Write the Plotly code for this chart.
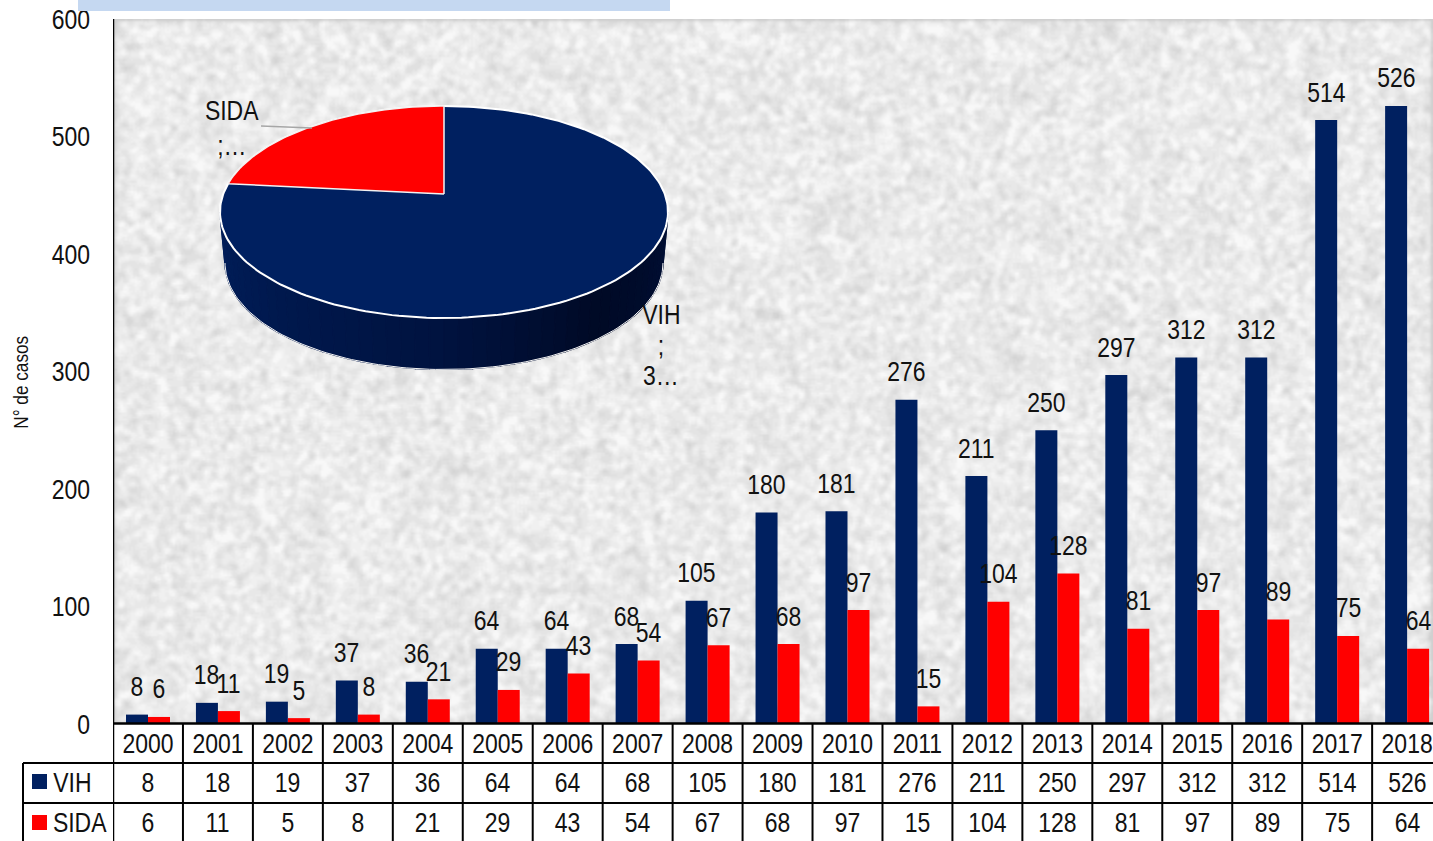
import base64, struct, zlib
import numpy as np
import plotly.graph_objects as go

YEARS = ["2000","2001","2002","2003","2004","2005","2006","2007","2008","2009",
         "2010","2011","2012","2013","2014","2015","2016","2017","2018"]
VIH = [8,18,19,37,36,64,64,68,105,180,181,276,211,250,297,312,312,514,526]
SIDA = [6,11,5,8,21,29,43,54,67,68,97,15,104,128,81,97,89,75,64]
Y_TICKS = [0,100,200,300,400,500,600]
NAVY = "#002060"
RED = "#FF0000"
FONT = "Liberation Sans"
W, H = 1433, 841
L, T, B = 113, 19, 724
TXT = "#111111"
FS = 28

def px(x): return (x - L) / (W - L)
def py(y): return (B - y) / (B - T)

# granite-like backdrop, deterministic shader hash, no chart information in it
def texture(w=660, h=353):
    yy, xx = np.mgrid[0:h, 0:w].astype(float)
    n = np.sin(xx * 12.9898 + yy * 78.233) * 43758.5453
    n = n - np.floor(n)
    def smooth(a, r):
        out = a.copy()
        for _ in range(2):
            k = np.ones(2 * r + 1) / (2 * r + 1)
            out = np.apply_along_axis(lambda m: np.convolve(m, k, mode="same"), 0, out)
            out = np.apply_along_axis(lambda m: np.convolve(m, k, mode="same"), 1, out)
        return out
    fine = smooth(n, 1)
    coarse = smooth(n, 3)
    v = (fine - fine.mean()) / fine.std() * 0.9 + (coarse - coarse.mean()) / coarse.std() * 0.15
    g = np.clip(236 + v * 7, 208, 250).astype(np.uint8)
    g = (g // 4) * 4
    raw = b"".join(b"\x00" + g[i].tobytes() for i in range(h))
    def chunk(t, d):
        return struct.pack(">I", len(d)) + t + d + struct.pack(">I", zlib.crc32(t + d))
    png = (b"\x89PNG\r\n\x1a\n" + chunk(b"IHDR", struct.pack(">IIBBBBB", w, h, 8, 0, 0, 0, 0))
           + chunk(b"IDAT", zlib.compress(raw, 9)) + chunk(b"IEND", b""))
    return "data:image/png;base64," + base64.b64encode(png).decode()

fig = go.Figure()
fig.add_bar(x=YEARS, y=VIH, name="VIH", marker=dict(color=NAVY, line=dict(width=0)))
fig.add_bar(x=YEARS, y=SIDA, name="SIDA", marker=dict(color=RED, line=dict(width=0)))

# 3-D pie, slices from the totals
tot_v, tot_s = sum(VIH), sum(SIDA)
CX, APEX_Y, TOP_Y, BOT_Y, RX = 444.0, 194.0, 106.0, 318.0, 224.0
up, dn = APEX_Y - TOP_Y, BOT_Y - APEX_Y
k = (dn - up) / (dn + up)
A = up * (1 + k)
C = RX * np.sqrt(1 - k * k)

def rim(theta):
    u, v = np.sin(theta), np.cos(theta)
    w = 1 + k * v
    return CX + C * u / w, APEX_Y - A * v / w

def closed(x, y):
    return list(x) + [x[0]], list(y) + [y[0]]

# side wall
ECY, ERY = (TOP_Y + BOT_Y) / 2, (BOT_Y - TOP_Y) / 2
WALL_H, WALL_RX, WALL_RY = 51.0, 219.0, 106.5
wall_stops = [(0.0, (0, 30, 90)), (0.5, (0, 19, 64)), (0.75, (0, 10, 38)), (1.0, (0, 15, 52))]
N = 48
for i in range(N):
    p0, p1 = np.pi * (1 - i / N), np.pi * (1 - (i + 1) / N)
    ph = np.linspace(p0, p1, 4)
    xt = CX + RX * np.cos(ph); yt = ECY + ERY * np.sin(ph)
    xb = CX + WALL_RX * np.cos(ph[::-1]); yb = ECY + WALL_H + WALL_RY * np.sin(ph[::-1])
    f = i / (N - 1)
    col = [int(np.interp(f, [s[0] for s in wall_stops], [s[1][c] for s in wall_stops])) for c in range(3)]
    c = f"rgb({col[0]},{col[1]},{col[2]})"
    sx, sy = closed(list(xt) + list(xb), list(yt) + list(yb))
    fig.add_scatter(x=sx, y=sy, xaxis="x2", yaxis="y2", mode="lines", fill="toself",
                    fillcolor=c, line=dict(width=1.2, color=c), hoverinfo="skip", showlegend=False)
ph = np.linspace(0, np.pi, 120)
fig.add_scatter(x=CX + WALL_RX * np.cos(ph), y=ECY + WALL_H + WALL_RY * np.sin(ph), xaxis="x2", yaxis="y2",
                mode="lines", line=dict(color="#f4f4f4", width=1), hoverinfo="skip", showlegend=False)
# top face
th = np.linspace(0, 2 * np.pi, 240)
ex, ey = rim(th)
fig.add_scatter(x=ex, y=ey, xaxis="x2", yaxis="y2", mode="lines", fill="toself", fillcolor=NAVY,
                line=dict(color="white", width=2), name="VIH", hoverinfo="skip", showlegend=False)
# SIDA slice, counter-clockwise from the top
share = tot_s / (tot_s + tot_v)
ts = np.linspace(0, -2 * np.pi * share, 80)
wx, wy = rim(ts)
sx, sy = closed([CX] + list(wx), [APEX_Y] + list(wy))
fig.add_scatter(x=sx, y=sy, xaxis="x2", yaxis="y2", mode="lines", fill="toself", fillcolor=RED,
                line=dict(color="#f2f2f2", width=1.5), name="SIDA", hoverinfo="skip", showlegend=False)

ann = []
def note(text, x, y, xref="paper", yref="paper", **kw):
    d = dict(text=text, x=x, y=y, xref=xref, yref=yref, showarrow=False,
             font=dict(family=FONT, size=kw.pop("size", FS), color=TXT),
             xanchor=kw.pop("xanchor", "center"), yanchor="middle")
    d.update(kw)
    ann.append(d)

for i, (v, s) in enumerate(zip(VIH, SIDA)):
    note(str(v), i, v, xref="x", yref="y", xshift=-11, yshift=28)
    note(str(s), i, s, xref="x", yref="y", xshift=11, yshift=28)
    note(str(v), i, py(782.5), xref="x")
    note(str(s), i, py(822.5), xref="x")
note("VIH", px(47), py(782.5), xanchor="left")
note("SIDA", px(45), py(822.5), xanchor="left")
note("SIDA", px(232), py(111))
note(";…", px(232), py(145))
note("VIH", px(661), py(314))
note(";", px(661), py(345))
note("3…", px(661), py(376))
note("N° de casos", px(20), py(383), size=21, textangle=-90)

shapes = []
def seg(x0, y0, x1, y1, xref="paper", color="black", width=2):
    shapes.append(dict(type="line", x0=x0, y0=y0, x1=x1, y1=y1, xref=xref, yref="paper",
                       line=dict(color=color, width=width)))
for i in range(len(YEARS) + 1):
    seg(i - 0.5, py(T) if i == 0 else py(B), i - 0.5, py(H), xref="x", width=2.5 if i == 0 else 2)
seg(0, py(723.5), 1, py(723.5), width=2.5)
seg(px(23), py(763), px(23), py(H))
seg(px(23), py(763), 1, py(763))
seg(px(23), py(803), 1, py(803))
seg(px(261), py(126), px(312), py(128), color="#a6a6a6", width=1.5)
for col, y0 in ((NAVY, 774), (RED, 815)):
    shapes.append(dict(type="rect", x0=px(32), x1=px(47), y0=py(y0), y1=py(y0 + 15), xref="paper", yref="paper",
                       fillcolor=col, line=dict(width=0)))
shapes.append(dict(type="rect", x0=px(78), x1=px(670), y0=py(0), y1=py(11), xref="paper", yref="paper",
                   fillcolor="#C5D8F1", line=dict(width=0)))

fig.update_layout(
    width=W, height=H, autosize=False, margin=dict(l=L, r=0, t=T, b=H - B, pad=0),
    paper_bgcolor="white", plot_bgcolor="#e9e9e9", showlegend=False,
    barmode="group", bargap=0.371, bargroupgap=0,
    font=dict(family=FONT, size=FS, color=TXT),
    xaxis=dict(type="category", categoryorder="array", categoryarray=YEARS, range=[-0.5, 18.37],
               showgrid=False, zeroline=False, showline=False, automargin=False,
               ticks="", ticklabelstandoff=0, tickfont=dict(family=FONT, size=FS, color=TXT), tickangle=0),
    yaxis=dict(range=[0, 600], tickvals=Y_TICKS, showgrid=False, zeroline=False, showline=False, automargin=False,
               ticks="", ticklabelstandoff=22,
               tickfont=dict(family=FONT, size=FS, color=TXT)),
    xaxis2=dict(overlaying="x", range=[L, W], visible=False, fixedrange=True, automargin=False),
    yaxis2=dict(overlaying="y", range=[B, T], visible=False, fixedrange=True, automargin=False),
    annotations=ann, shapes=shapes,
    images=[dict(source=texture(), xref="paper", yref="paper", x=0, y=1, sizex=1, sizey=1,
                 xanchor="left", yanchor="top", sizing="stretch", layer="below")],
)
# The reference lettering is a condensed sans: narrow the real text elements to match.
SQUEEZE = """
document.body.style.margin='0';document.body.style.overflow='hidden';
document.querySelectorAll('.main-svg text').forEach(function(t){
  var n=t.getComputedTextLength();
  if(n>0){t.setAttribute('textLength',n*0.82);t.setAttribute('lengthAdjust','spacingAndGlyphs');}
});
"""
fig.write_html("out.html", config=dict(displayModeBar=False), post_script=SQUEEZE)
